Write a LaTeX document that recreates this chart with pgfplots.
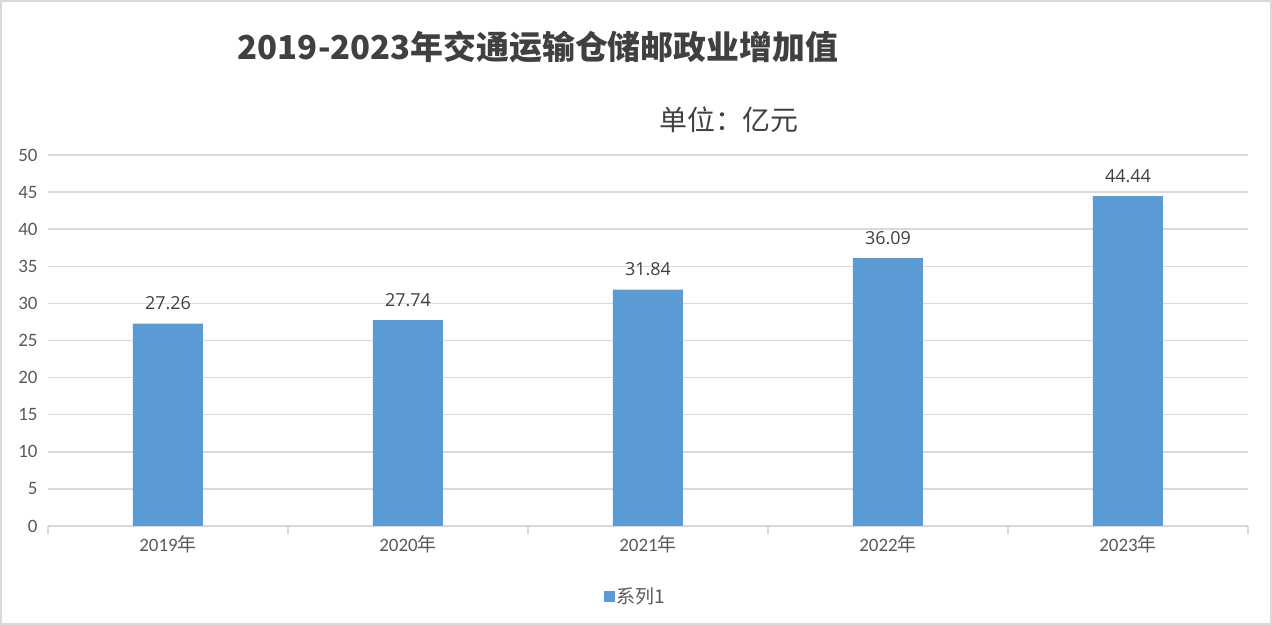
\documentclass[border=0pt]{standalone}
\usepackage{pgfplots}
\pgfplotsset{compat=1.18}
\usepackage{fontspec}
\setmainfont{Carlito}
\newfontfamily\cjk{Noto Sans CJK SC}
\newfontfamily\lbl{Open Sans}
\definecolor{barblue}{HTML}{5B9BD5}
\definecolor{gridgray}{HTML}{D9D9D9}
\definecolor{txtgray}{HTML}{595959}
\definecolor{titlegray}{HTML}{404040}
\begin{document}
\begin{tikzpicture}[x=1bp,y=1bp]
\useasboundingbox (0,0) rectangle (1272,625);
\draw[gridgray, line width=2bp] (1,1) rectangle (1271,624);
\node[font=\cjk\bfseries\fontsize{33}{38}\selectfont, text=titlegray] at (538,578) {2019-2023年交通运输仓储邮政业增加值};
\node[font=\cjk\fontsize{28}{32}\selectfont, text=titlegray] at (729,505) {单位：亿元};
\begin{axis}[
    at={(48bp,99bp)}, anchor=south west,
    scale only axis,
    width=1200bp, height=371bp,
    ybar, bar width=70bp,
    xmin=-0.5, xmax=4.5,
    ymin=0, ymax=50,
    ytick={0,5,...,50},
    xtick={0,1,2,3,4},
    xticklabels={2019{\cjk 年},2020{\cjk 年},2021{\cjk 年},2022{\cjk 年},2023{\cjk 年}},
    major tick length=0pt,
    extra x ticks={-0.5,0.5,1.5,2.5,3.5,4.5},
    extra x tick labels={},
    extra x tick style={major tick length=8bp, tick align=outside, xmajorgrids=false,
        tick style={gridgray, line width=1.5bp}},
    ymajorgrids, grid style={gridgray, line width=1.5bp},
    axis x line*=bottom,
    axis y line*=left,
    y axis line style={draw=none},
    x axis line style={gridgray, line width=1.5bp, -},
    ticklabel style={font=\fontsize{19}{22}\selectfont, text=txtgray},
    yticklabel style={xshift=-7bp},
    xticklabel style={yshift=-6bp},
    /pgf/number format/assume math mode=true,
    nodes near coords,
    nodes near coords style={font=\lbl\fontsize{18}{21}\selectfont, text=titlegray, yshift=10bp},
    /pgf/number format/.cd, fixed, fixed zerofill, precision=2,
    /pgfplots/.cd,
    yticklabel={\pgfmathprintnumber[fixed, precision=0, fixed zerofill=false]{\tick}},
    legend style={at={(0.4896,-0.19)}, anchor=center, draw=none, fill=none,
        font=\cjk\fontsize{19}{22}\selectfont, text=txtgray, legend columns=1},
    legend image code/.code={\fill[barblue] (-4bp,-5.5bp) rectangle (7bp,5.5bp);},
]
\addplot[fill=barblue, draw=none, bar shift=0pt] coordinates {
    (0,27.26) (1,27.74) (2,31.84) (3,36.09) (4,44.44)
};
\legend{系列1}
\end{axis}
\end{tikzpicture}
\end{document}
